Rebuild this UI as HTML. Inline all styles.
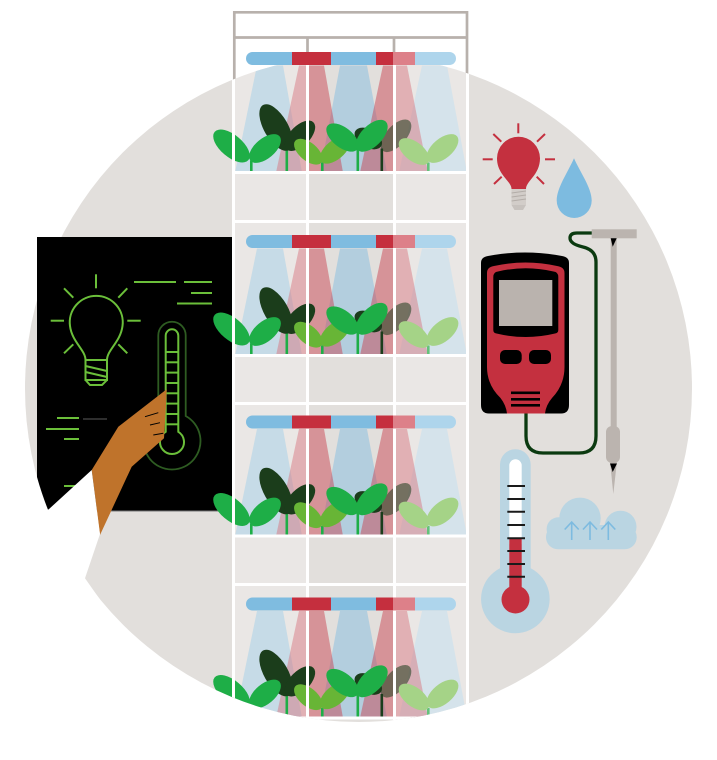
<!DOCTYPE html>
<html><head><meta charset="utf-8"><style>
html,body{margin:0;padding:0;background:#fff;}
svg{display:block;}
</style></head><body>
<svg width="717" height="760" viewBox="0 0 717 760" xmlns="http://www.w3.org/2000/svg">
<defs>
<clipPath id="cc"><circle cx="358.5" cy="388.5" r="333.5"/></clipPath>
<g id="beams">
 <polygon points="257,-107 283,-107 302,0 235,0" fill="#7fbde0" fill-opacity=".5"/>
 <polygon points="340,-107 367,-107 387,0 320,0" fill="#7fbde0" fill-opacity=".48"/>
 <polygon points="422,-107 447,-107 467,0 399,0" fill="#a9d3ec" fill-opacity=".5"/>
 <polygon points="299,-107 324,-107 343,0 276,0" fill="#c8404d" fill-opacity=".48"/>
 <polygon points="383,-107 407,-107 428,0 360,0" fill="#c8404d" fill-opacity=".48"/>
</g>
<g id="plants">
 <rect x="285.5" y="-22" width="2.6" height="22" fill="#1eae47"/>
 <ellipse cx="276" cy="-45" rx="26" ry="12" transform="rotate(60 276 -45)" fill="#1b3d1b"/>
 <ellipse cx="300" cy="-36.7" rx="19" ry="10" transform="rotate(-45 300 -36.7)" fill="#1b3d1b"/>
 <rect x="380.5" y="-24" width="2.6" height="24" fill="#1b3d1b"/>
 <ellipse cx="368.3" cy="-34" rx="15" ry="9" transform="rotate(30 368.3 -34)" fill="#1b3d1b"/>
 <ellipse cx="396" cy="-36.7" rx="20" ry="10" transform="rotate(-48 396 -36.7)" fill="#1b3d1b" fill-opacity=".55"/>
 <rect x="250" y="-12" width="2.6" height="12" fill="#1eae47"/>
 <ellipse cx="231.5" cy="-26.5" rx="22" ry="11" transform="rotate(40 231.5 -26.5)" fill="#1eae47"/>
 <ellipse cx="265" cy="-24" rx="19" ry="10" transform="rotate(-40 265 -24)" fill="#1eae47"/>
 <rect x="321" y="-10" width="2.6" height="10" fill="#1eae47"/>
 <ellipse cx="308.3" cy="-20.8" rx="17" ry="9" transform="rotate(40 308.3 -20.8)" fill="#68b536"/>
 <ellipse cx="335" cy="-22.5" rx="18" ry="9.5" transform="rotate(-40 335 -22.5)" fill="#68b536"/>
 <rect x="356.5" y="-24" width="2.6" height="24" fill="#1eae47"/>
 <ellipse cx="342.5" cy="-35" rx="19" ry="10" transform="rotate(38 342.5 -35)" fill="#1eae47"/>
 <ellipse cx="371.7" cy="-36.7" rx="20" ry="10.5" transform="rotate(-45 371.7 -36.7)" fill="#1eae47"/>
 <rect x="427" y="-10" width="2.6" height="10" fill="#64c27a"/>
 <ellipse cx="414" cy="-21" rx="18" ry="9.5" transform="rotate(38 414 -21)" fill="#a5d387"/>
 <ellipse cx="442.5" cy="-24" rx="19" ry="10" transform="rotate(-40 442.5 -24)" fill="#a5d387"/>
</g>
<g id="lamp">
 <rect x="246" y="-120.5" width="56" height="13" rx="6.5" fill="#7fbce0"/>
 <rect x="292" y="-120.5" width="39" height="13" fill="#c52f3e"/>
 <rect x="331" y="-120.5" width="45" height="13" fill="#7fbce0"/>
 <rect x="376" y="-120.5" width="17" height="13" fill="#c52f3e"/>
 <rect x="405" y="-120.5" width="51" height="13" rx="6.5" fill="#aed5ec"/>
 <rect x="393" y="-120.5" width="22" height="13" fill="#dd8089"/>
</g>
</defs>

<g stroke="#b8b1ac" stroke-width="2.7" fill="none">
 <line x1="233" y1="12.3" x2="468" y2="12.3"/>
 <line x1="233" y1="37.5" x2="468" y2="37.5"/>
 <line x1="234.3" y1="11" x2="234.3" y2="110"/>
 <line x1="467" y1="11" x2="467" y2="110"/>
 <line x1="307.5" y1="37" x2="307.5" y2="55"/>
 <line x1="394" y1="37" x2="394" y2="55"/>
</g>

<circle cx="358.5" cy="388.5" r="333.5" fill="#e2dfdc"/>

<path d="M37,237 H232 V511 H48.5 A333.5,333.5 0 0 1 37,477 Z" fill="#000"/>
<line x1="100" y1="511" x2="232" y2="511" stroke="#777" stroke-width="1"/>
<g stroke="#6bbf3a" stroke-width="2" fill="none">
 <line x1="96" y1="274.3" x2="96" y2="288.3"/>
 <line x1="64" y1="288.3" x2="73.3" y2="297.7"/>
 <line x1="127.3" y1="288.3" x2="118.3" y2="297.7"/>
 <line x1="50.7" y1="320.7" x2="64" y2="320.7"/>
 <line x1="127.3" y1="320.7" x2="140.7" y2="320.7"/>
 <line x1="64" y1="353.3" x2="73.3" y2="344.3"/>
 <line x1="118.3" y1="344.3" x2="127.3" y2="353.3"/>
 <path d="M85.5,360 C85.5,350 72,342 70,326 A26.5,26.5 0 1 1 122.5,326 C120.5,342 107,350 107,360"/>
 <rect x="85.5" y="360" width="21.5" height="20"/>
 <line x1="85.5" y1="366" x2="107" y2="371"/>
 <line x1="85.5" y1="372" x2="107" y2="377"/>
 <path d="M85.5,380 L90,385 H102 L107,380"/>
 <line x1="134" y1="282" x2="176" y2="282"/>
 <line x1="184" y1="282" x2="212" y2="282"/>
 <line x1="191" y1="293" x2="212" y2="293"/>
 <line x1="177" y1="303.5" x2="212" y2="303.5"/>
 <line x1="57" y1="418" x2="79" y2="418"/>
 <line x1="46" y1="429" x2="79" y2="429"/>
 <line x1="64" y1="439" x2="79" y2="439"/>
 <line x1="64" y1="486" x2="76" y2="486"/>
</g>
<line x1="83" y1="419" x2="107" y2="419" stroke="#3d3d3d" stroke-width="1.5"/>
<path d="M158.3,416 V335.4 A13.7,13.7 0 0 1 185.7,335.4 V416 A28.5,28.5 0 1 1 158.3,416 Z" fill="none" stroke="#2e5c22" stroke-width="1.8"/>
<g stroke="#6bbf3a" stroke-width="2" fill="none">
 <path d="M165.7,431.8 V335.6 A6.3,6.3 0 0 1 178.3,335.6 V431.8 A12,12 0 1 1 165.7,431.8 Z"/>
 <line x1="165.7" y1="352" x2="178.3" y2="352"/>
 <line x1="165.7" y1="362.3" x2="178.3" y2="362.3"/>
 <line x1="165.7" y1="372.6" x2="178.3" y2="372.6"/>
 <line x1="165.7" y1="383" x2="178.3" y2="383"/>
 <line x1="165.7" y1="393.3" x2="178.3" y2="393.3"/>
 <line x1="165.7" y1="403.6" x2="178.3" y2="403.6"/>
 <line x1="165.7" y1="414" x2="178.3" y2="414"/>
 <line x1="165.7" y1="424.3" x2="178.3" y2="424.3"/>
</g>
<polygon points="166.7,389.3 165.7,410 164,438.3 131.7,466.7 100,535 91.7,470 118.3,426.7" fill="#bf732b"/>
<g stroke="#000" stroke-width="1">
 <line x1="145" y1="416.7" x2="158.3" y2="412.7"/>
 <line x1="150" y1="425" x2="160" y2="422.7"/>
 <line x1="153.3" y1="435" x2="163.3" y2="433.3"/>
</g>
<polygon points="48.5,509.5 91.7,470 100,534 85,578.3 101,601 0,601 0,509.5" fill="#fff"/>

<g clip-path="url(#cc)">
 <use href="#beams" y="172.5"/>
 <use href="#beams" y="355.5"/>
 <use href="#beams" y="536"/>
 <use href="#beams" y="718"/>
 <rect x="235" y="40" width="71" height="720" fill="#fff" fill-opacity=".27"/>
 <rect x="396" y="40" width="70" height="720" fill="#fff" fill-opacity=".27"/>
 <use href="#plants" y="172.5"/>
 <use href="#plants" y="355.5"/>
 <use href="#plants" y="536"/>
 <use href="#plants" y="718"/>
 <g stroke="#fff" stroke-width="3">
  <line x1="233.5" y1="40" x2="233.5" y2="760"/>
  <line x1="307.5" y1="40" x2="307.5" y2="760"/>
  <line x1="394.5" y1="40" x2="394.5" y2="760"/>
  <line x1="467.5" y1="40" x2="467.5" y2="760"/>
  <line x1="232" y1="172.5" x2="469" y2="172.5"/>
  <line x1="232" y1="221.5" x2="469" y2="221.5"/>
  <line x1="232" y1="355.5" x2="469" y2="355.5"/>
  <line x1="232" y1="403.5" x2="469" y2="403.5"/>
  <line x1="232" y1="536" x2="469" y2="536"/>
  <line x1="232" y1="584.5" x2="469" y2="584.5"/>
  <line x1="232" y1="718" x2="469" y2="718"/>
 </g>
</g>
<use href="#lamp" y="172.5"/>
<use href="#lamp" y="355.5"/>
<use href="#lamp" y="536"/>
<use href="#lamp" y="718"/>

<g stroke="#c4303f" stroke-width="2">
 <line x1="518.3" y1="123.3" x2="518.3" y2="133.3"/>
 <line x1="493.3" y1="134" x2="501.3" y2="141.7"/>
 <line x1="545" y1="134" x2="537" y2="141.7"/>
 <line x1="482.7" y1="159.3" x2="492.7" y2="159.3"/>
 <line x1="545" y1="159.3" x2="555" y2="159.3"/>
 <line x1="494" y1="184" x2="501.7" y2="176.7"/>
 <line x1="536.7" y1="176.7" x2="544" y2="184"/>
</g>
<path d="M511.5,189 C511.5,181 497,175 497,158.3 A21.5,21.5 0 1 1 540,158.3 C540,175 526,181 526,189 Z" fill="#c4303f"/>
<rect x="511.5" y="189" width="14.5" height="16" fill="#d2cdc9"/>
<g stroke="#b3ada8" stroke-width="1">
 <line x1="511.5" y1="193" x2="526" y2="191"/>
 <line x1="511.5" y1="197" x2="526" y2="195"/>
 <line x1="511.5" y1="201" x2="526" y2="199"/>
</g>
<polygon points="511.5,205 526,205 523,210 514.5,210" fill="#c7c2be"/>

<path d="M574,158.3 C568,172 556.7,188 556.7,200.5 A17.5,17.5 0 0 0 591.7,200.5 C591.7,188 580,172 574,158.3 Z" fill="#7dbbe0"/>

<path d="M526,413 V436 Q526,453 543,453 H579 Q596,453 596,436 V262 Q596,250 583,247 Q570,244 570,238 Q570,233 577,233 H593" fill="none" stroke="#0b3a10" stroke-width="3.3"/>

<path d="M481,263 Q481,257 488,256 Q525,249 562,256 Q569,257 569,263 L569,405 Q569,413.5 561,413.5 L489,413.5 Q481,413.5 481,405 Z" fill="#000"/>
<path d="M487,273 Q487,267 494,266 Q525.5,259 557,266 Q564.5,267 564.5,273 L564.5,367 Q564.5,385 552,398 Q546,405 545,413.5 L507,413.5 Q506,405 500.5,398 Q487,385 487,367 Z" fill="#c4303f"/>
<path d="M493.3,277 Q493.3,272 498,271.5 Q525.8,265 553.5,271.5 Q558.3,272 558.3,277 L558.3,330 Q558.3,333 555,333.5 Q525.8,340.5 496.5,333.5 Q493.3,333 493.3,330 Z" fill="#000"/>
<rect x="499" y="280" width="53.3" height="46" fill="#bab3ae"/>
<rect x="500" y="350" width="21.7" height="14" rx="5" fill="#000"/>
<rect x="529" y="350" width="22" height="14" rx="5" fill="#000"/>
<rect x="511" y="391.5" width="29" height="2.6" fill="#000"/>
<rect x="511" y="398" width="29" height="2.6" fill="#000"/>
<rect x="511" y="404" width="29" height="2.6" fill="#000"/>

<rect x="591.7" y="229.3" width="45" height="9" fill="#bbb4af"/>
<rect x="610.7" y="238" width="6" height="192" fill="#bbb4af"/>
<polygon points="610.7,238.3 616.7,238.3 612.7,246.7" fill="#000"/>
<rect x="606" y="426" width="14" height="37" rx="6" fill="#bbb4af"/>
<polygon points="610,461 617,461 613.3,494" fill="#bbb4af"/>
<polygon points="610,463.5 617,463.5 612.7,472" fill="#000"/>

<path d="M500,568.3 V464.6 A15.35,15.35 0 0 1 530.7,464.6 V568.3 A34.3,34.3 0 1 1 500,568.3 Z" fill="#bad5e2"/>
<rect x="509.3" y="459.3" width="12.4" height="90" rx="6.2" fill="#fff"/>
<rect x="509.3" y="537.7" width="12.4" height="55" fill="#c4303f"/>
<circle cx="515.5" cy="599.5" r="14" fill="#c4303f"/>
<g stroke="#1a1a1a" stroke-width="2">
 <line x1="507.3" y1="486" x2="525" y2="486"/>
 <line x1="507.3" y1="499" x2="525" y2="499"/>
 <line x1="507.3" y1="511.7" x2="525" y2="511.7"/>
 <line x1="507.3" y1="525" x2="525" y2="525"/>
 <line x1="507.3" y1="538.3" x2="525" y2="538.3"/>
 <line x1="507.3" y1="551" x2="525" y2="551"/>
 <line x1="507.3" y1="564" x2="525" y2="564"/>
 <line x1="507.3" y1="576.7" x2="525" y2="576.7"/>
</g>

<g fill="#bad5e2">
 <rect x="546" y="525" width="90.7" height="24.3" rx="12"/>
 <circle cx="580" cy="518.3" r="20.7"/>
 <circle cx="620.5" cy="526.7" r="16"/>
 <circle cx="558.3" cy="529" r="11.7"/>
</g>
<g stroke="#7dbbe0" stroke-width="1.6" fill="none">
 <path d="M571.7,540 V522 M564.7,529.5 L571.7,522 L578.7,529.5"/>
 <path d="M590,540 V522 M583,529.5 L590,522 L597,529.5"/>
 <path d="M608.3,540 V522 M601.3,529.5 L608.3,522 L615.3,529.5"/>
</g>
</svg>
</body></html>
